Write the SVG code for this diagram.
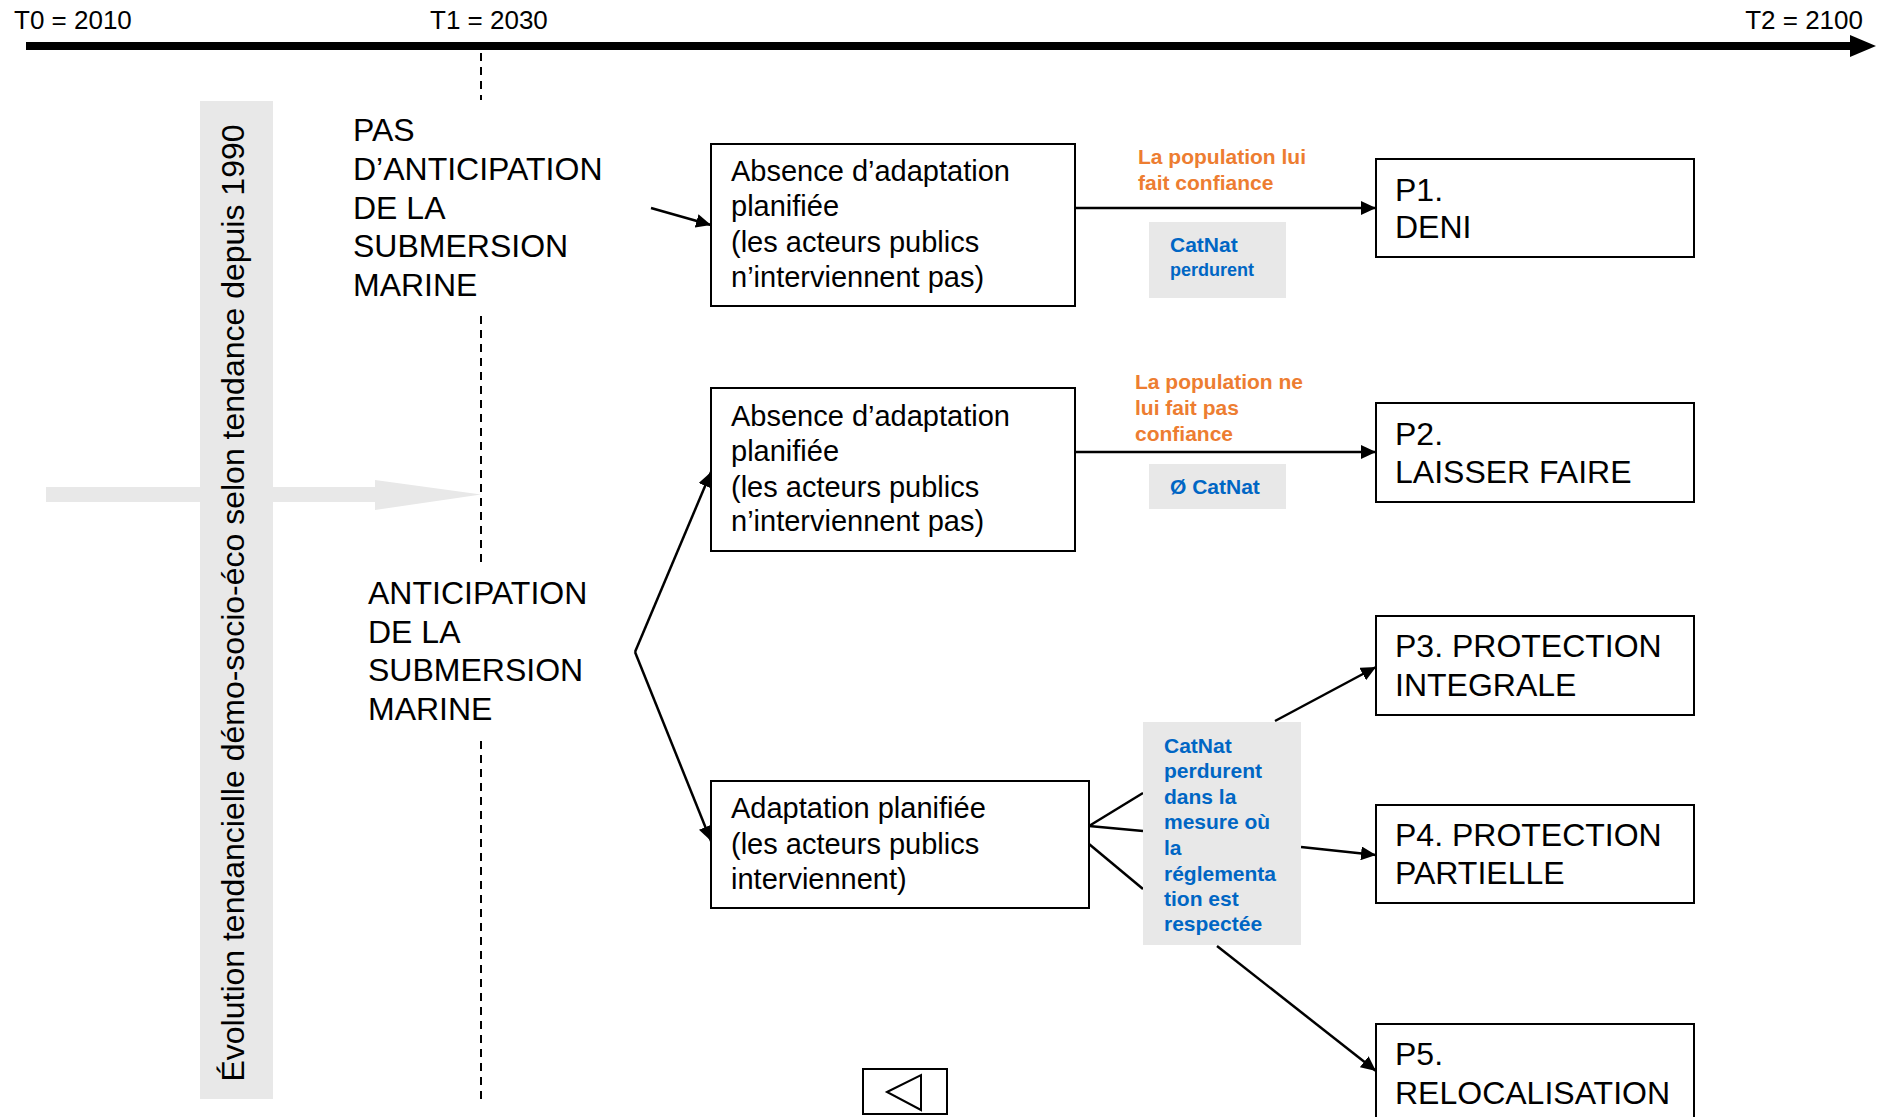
<svg xmlns="http://www.w3.org/2000/svg" width="1883" height="1117" viewBox="0 0 1883 1117">
  <style>
    text { font-family: "Liberation Sans", Arial, sans-serif; fill: #000; }
    .time { font-size: 26px; }
    .big { font-size: 32px; }
    .box { fill: #fff; stroke: #000; stroke-width: 2; }
    .boxtxt { font-size: 29px; }
    .ptxt { font-size: 32px; }
    .pop { font-size: 21px; font-weight: bold; fill: #ED7D31; }
    .cat { font-size: 21px; font-weight: bold; fill: #0066C4; }
    .cat-s { font-size: 18px; font-weight: bold; fill: #0066C4; }
    .shade { fill: #e8e8e8; }
    .link { stroke: #000; stroke-width: 2.5; fill: none; }
    .dash { stroke: #000; stroke-width: 2; stroke-dasharray: 8 6; fill: none; }
  </style>
  <defs>
    <marker id="head" markerUnits="userSpaceOnUse" markerWidth="16" markerHeight="14" refX="15" refY="7" orient="auto">
      <path d="M0,0 L15,7 L0,14 z" fill="#000"/>
    </marker>
  </defs>

  <!-- timeline -->
  <g id="timeline">
    <line x1="26" y1="46" x2="1852" y2="46" stroke="#000" stroke-width="8"/>
    <polygon points="1850,35 1876,46 1850,57" fill="#000"/>
    <text class="time" x="14" y="29">T0 = 2010</text>
    <text class="time" x="430" y="29">T1 = 2030</text>
    <text class="time" x="1863" y="29" text-anchor="end">T2 = 2100</text>
  </g>

  <!-- T1 marker -->
  <g id="t1-marker">
    <line class="dash" x1="481" y1="53" x2="481" y2="100"/>
    <line class="dash" x1="481" y1="316" x2="481" y2="564"/>
    <line class="dash" x1="481" y1="741" x2="481" y2="1102"/>
  </g>

  <!-- trend arrow and band -->
  <g id="trend">
    <rect class="shade" x="46" y="487" width="331" height="15"/>
    <polygon class="shade" points="375,480 481,494.5 375,510"/>
    <rect class="shade" x="200" y="101" width="73" height="998"/>
    <text transform="translate(244,603) rotate(-90)" text-anchor="middle" font-size="32">Évolution tendancielle démo-socio-éco selon tendance depuis 1990</text>
  </g>

  <!-- branch headings -->
  <g id="no-anticipation">
    <text class="big">
      <tspan x="353" y="141">PAS</tspan>
      <tspan x="353" y="180">D’ANTICIPATION</tspan>
      <tspan x="353" y="219">DE LA</tspan>
      <tspan x="353" y="257">SUBMERSION</tspan>
      <tspan x="353" y="296">MARINE</tspan>
    </text>
  </g>
  <g id="anticipation">
    <text class="big">
      <tspan x="368" y="604">ANTICIPATION</tspan>
      <tspan x="368" y="643">DE LA</tspan>
      <tspan x="368" y="681">SUBMERSION</tspan>
      <tspan x="368" y="720">MARINE</tspan>
    </text>
  </g>

  <!-- connectors -->
  <g id="connectors">
    <line class="link" x1="651" y1="208" x2="711" y2="225" marker-end="url(#head)"/>
    <line class="link" x1="635" y1="652" x2="711" y2="472" marker-end="url(#head)"/>
    <line class="link" x1="635" y1="652" x2="711" y2="841" marker-end="url(#head)"/>
    <line class="link" x1="1075" y1="208" x2="1376" y2="208" marker-end="url(#head)"/>
    <line class="link" x1="1075" y1="452" x2="1376" y2="452" marker-end="url(#head)"/>
    <line class="link" x1="1089" y1="826" x2="1143" y2="793"/>
    <line class="link" x1="1089" y1="826" x2="1143" y2="831"/>
    <line class="link" x1="1089" y1="844" x2="1143" y2="889"/>
    <line class="link" x1="1275" y1="721" x2="1376" y2="667" marker-end="url(#head)"/>
    <line class="link" x1="1301" y1="847" x2="1376" y2="855" marker-end="url(#head)"/>
    <line class="link" x1="1217" y1="946" x2="1376" y2="1071" marker-end="url(#head)"/>
  </g>

  <!-- adaptation boxes -->
  <g id="no-adaptation-1">
    <rect class="box" x="711" y="144" width="364" height="162"/>
    <text class="boxtxt">
      <tspan x="731" y="181">Absence d’adaptation</tspan>
      <tspan x="731" y="216">planifiée</tspan>
      <tspan x="731" y="252">(les acteurs publics</tspan>
      <tspan x="731" y="287">n’interviennent pas)</tspan>
    </text>
  </g>
  <g id="no-adaptation-2">
    <rect class="box" x="711" y="388" width="364" height="163"/>
    <text class="boxtxt">
      <tspan x="731" y="426">Absence d’adaptation</tspan>
      <tspan x="731" y="461">planifiée</tspan>
      <tspan x="731" y="497">(les acteurs publics</tspan>
      <tspan x="731" y="531">n’interviennent pas)</tspan>
    </text>
  </g>
  <g id="adaptation">
    <rect class="box" x="711" y="781" width="378" height="127"/>
    <text class="boxtxt">
      <tspan x="731" y="818">Adaptation planifiée</tspan>
      <tspan x="731" y="854">(les acteurs publics</tspan>
      <tspan x="731" y="889">interviennent)</tspan>
    </text>
  </g>

  <!-- edge labels -->
  <g id="label-trust">
    <text class="pop">
      <tspan x="1138" y="164">La population lui</tspan>
      <tspan x="1138" y="190">fait confiance</tspan>
    </text>
  </g>
  <g id="label-catnat-1">
    <rect class="shade" x="1149" y="222" width="137" height="76"/>
    <text class="cat" x="1170" y="252">CatNat</text>
    <text class="cat-s" x="1170" y="276">perdurent</text>
  </g>
  <g id="label-no-trust">
    <text class="pop">
      <tspan x="1135" y="389">La population ne</tspan>
      <tspan x="1135" y="415">lui fait pas</tspan>
      <tspan x="1135" y="441">confiance</tspan>
    </text>
  </g>
  <g id="label-catnat-2">
    <rect class="shade" x="1149" y="464" width="137" height="45"/>
    <text class="cat" x="1170" y="494">Ø CatNat</text>
  </g>
  <g id="label-catnat-3">
    <rect class="shade" x="1143" y="722" width="158" height="223"/>
    <text class="cat">
      <tspan x="1164" y="753">CatNat</tspan>
      <tspan x="1164" y="778">perdurent</tspan>
      <tspan x="1164" y="804">dans la</tspan>
      <tspan x="1164" y="829">mesure où</tspan>
      <tspan x="1164" y="855">la</tspan>
      <tspan x="1164" y="881">réglementa</tspan>
      <tspan x="1164" y="906">tion est</tspan>
      <tspan x="1164" y="931">respectée</tspan>
    </text>
  </g>

  <!-- outcome boxes -->
  <g id="p1">
    <rect class="box" x="1376" y="159" width="318" height="98"/>
    <text class="ptxt"><tspan x="1395" y="201">P1.</tspan><tspan x="1395" y="238">DENI</tspan></text>
  </g>
  <g id="p2">
    <rect class="box" x="1376" y="403" width="318" height="99"/>
    <text class="ptxt"><tspan x="1395" y="445">P2.</tspan><tspan x="1395" y="483">LAISSER FAIRE</tspan></text>
  </g>
  <g id="p3">
    <rect class="box" x="1376" y="616" width="318" height="99"/>
    <text class="ptxt"><tspan x="1395" y="657">P3. PROTECTION</tspan><tspan x="1395" y="696">INTEGRALE</tspan></text>
  </g>
  <g id="p4">
    <rect class="box" x="1376" y="805" width="318" height="98"/>
    <text class="ptxt"><tspan x="1395" y="846">P4. PROTECTION</tspan><tspan x="1395" y="884">PARTIELLE</tspan></text>
  </g>
  <g id="p5">
    <rect class="box" x="1376" y="1024" width="318" height="110"/>
    <text class="ptxt"><tspan x="1395" y="1065">P5.</tspan><tspan x="1395" y="1104">RELOCALISATION</tspan></text>
  </g>

  <!-- back button -->
  <g id="back-button">
    <rect x="863" y="1069" width="84" height="45" fill="#fff" stroke="#000" stroke-width="2"/>
    <polygon points="887,1092 921,1075 921,1110" fill="none" stroke="#000" stroke-width="2"/>
  </g>
</svg>
